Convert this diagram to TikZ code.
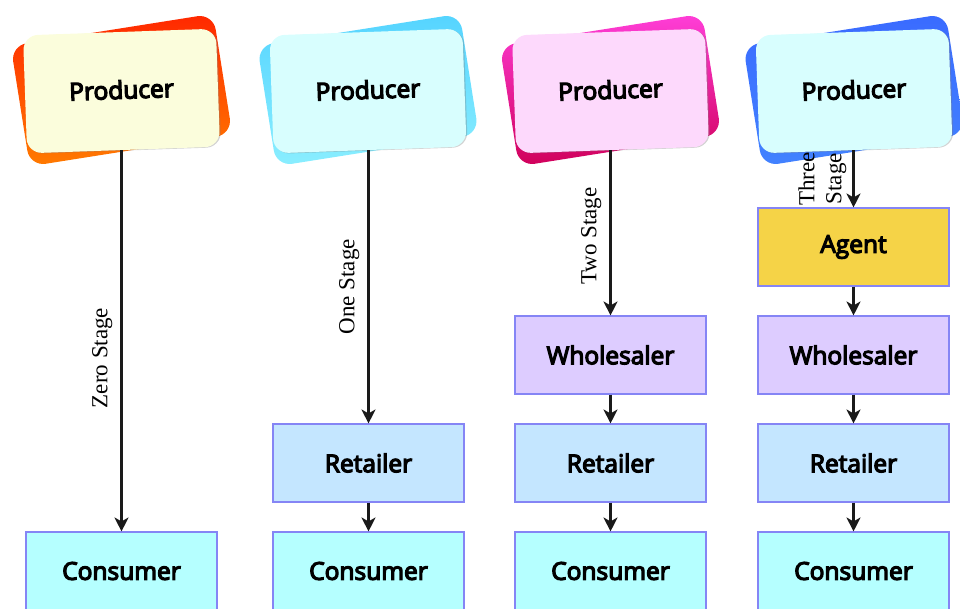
\documentclass[tikz,border=0pt]{standalone}
\usepackage{fontspec}
\setmainfont{Liberation Serif}
\newfontfamily\cardfont{Open Sans}[FakeBold=5]
\usetikzlibrary{arrows.meta,shadows}

% card and box colours
\definecolor{boxline}{HTML}{8585F5}
\definecolor{consumerfill}{HTML}{B5FFFF}
\definecolor{retailerfill}{HTML}{C4E6FF}
\definecolor{wholesalerfill}{HTML}{DDCCFF}
\definecolor{agentfill}{HTML}{F5D347}
\definecolor{frontA}{HTML}{FBFDDC}
\definecolor{frontB}{HTML}{D8FEFE}
\definecolor{frontC}{HTML}{FDD9FC}
\definecolor{backAtop}{HTML}{FF2800}
\definecolor{backAbot}{HTML}{FF7A00}
\definecolor{backBtop}{HTML}{55D4FF}
\definecolor{backBbot}{HTML}{8AEEFF}
\definecolor{backCtop}{HTML}{FF3ED8}
\definecolor{backCbot}{HTML}{D0005A}
\definecolor{backDtop}{HTML}{3A6BFF}
\definecolor{backDbot}{HTML}{4282FF}
\definecolor{arrowink}{HTML}{1A1A1A}

\tikzset{
  cardback/.style={minimum width=205pt, minimum height=122pt, rotate=9,
    rounded corners=16pt, inner sep=0pt},
  cardfront/.style={minimum width=193pt, minimum height=118pt, rotate=2,
    rounded corners=15pt, inner sep=0pt,
    font=\cardfont\fontsize{24.5}{28}\selectfont,
    drop shadow={opacity=0.35, shadow xshift=1.2pt, shadow yshift=-0.6pt}},
  stagebox/.style={draw=boxline, line width=1.1pt, minimum width=191pt,
    minimum height=78pt, inner sep=0pt,
    font=\cardfont\fontsize{24.5}{28}\selectfont},
  flow/.style={draw=arrowink, line width=2.1pt,
    -{Stealth[length=14pt, width=14pt, inset=4pt]}},
  stagelbl/.style={rotate=90, anchor=south, inner sep=8pt,
    font=\fontsize{23}{27}\selectfont}
}

\begin{document}
\begin{tikzpicture}[x=1pt, y=-1pt]
\useasboundingbox (0,0) rectangle (960,608);
\clip (0,0) rectangle (960,608);

% producer cards: tilted coloured back card behind a pale front card
\node[cardback, top color=backAtop, bottom color=backAbot] (b1) at (121.5,90) {};
\node[cardfront, fill=frontA] (p1) at (121.5,91) {\raisebox{3pt}{Producer}};
\node[cardback, top color=backBtop, bottom color=backBbot] (b2) at (368,90) {};
\node[cardfront, fill=frontB] (p2) at (368,91) {\raisebox{3pt}{Producer}};
\node[cardback, top color=backCtop, bottom color=backCbot] (b3) at (610.5,90) {};
\node[cardfront, fill=frontC] (p3) at (610.5,91) {\raisebox{3pt}{Producer}};
\node[cardback, top color=backDtop, bottom color=backDbot] (b4) at (854,90) {};
\node[cardfront, fill=frontB] (p4) at (854,91) {\raisebox{3pt}{Producer}};

% zero stage
\node[stagebox, fill=consumerfill] (c1) at (121.5,571) {Consumer};

% one stage
\node[stagebox, fill=retailerfill] (r2) at (368.5,463) {Retailer};
\node[stagebox, fill=consumerfill] (c2) at (368.5,571) {Consumer};

% two stage
\node[stagebox, fill=wholesalerfill] (w3) at (610.5,355) {Wholesaler};
\node[stagebox, fill=retailerfill] (r3) at (610.5,463) {Retailer};
\node[stagebox, fill=consumerfill] (c3) at (610.5,571) {Consumer};

% three stage
\node[stagebox, fill=agentfill] (a4) at (853.5,247) {Agent};
\node[stagebox, fill=wholesalerfill] (w4) at (853.5,355) {Wholesaler};
\node[stagebox, fill=retailerfill] (r4) at (853.5,463) {Retailer};
\node[stagebox, fill=consumerfill] (c4) at (853.5,571) {Consumer};

% connectors
\draw[flow] (c1.north |- p1.south) -- node[stagelbl, pos=0.545] {Zero Stage} (c1.north);

\draw[flow] (r2.north |- p2.south) -- node[stagelbl] {One Stage} (r2.north);
\draw[flow] (r2) -- (c2);

\draw[flow] (w3.north |- p3.south) -- node[stagelbl, pos=0.52] {Two Stage} (w3.north);
\draw[flow] (w3) -- (r3);
\draw[flow] (r3) -- (c3);

\draw[flow] (a4.north |- p4.south) -- node[stagelbl, text width=60pt, align=center,
  inner sep=6pt] {Three Stage} (a4.north);
\draw[flow] (a4) -- (w4);
\draw[flow] (w4) -- (r4);
\draw[flow] (r4) -- (c4);
\end{tikzpicture}
\end{document}
